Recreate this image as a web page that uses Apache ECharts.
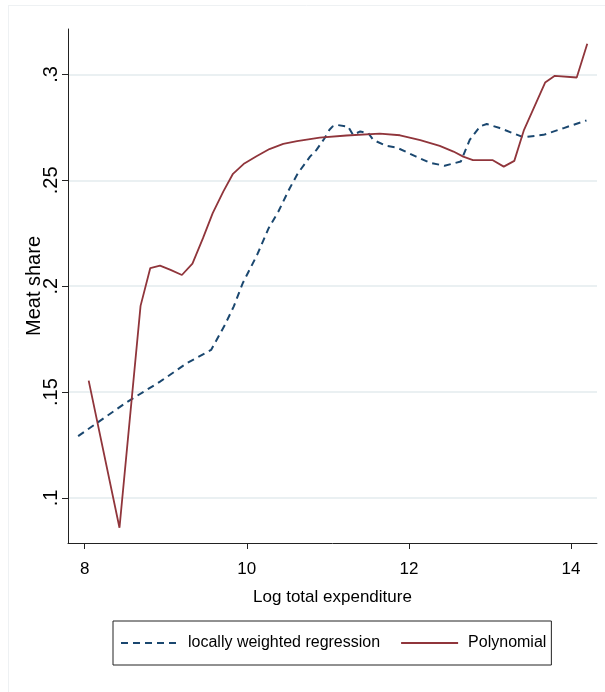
<!DOCTYPE html>
<html>
<head>
<meta charset="utf-8">
<script src="https://cdn.jsdelivr.net/npm/echarts@6/dist/echarts.min.js"></script>
<style>
html,body{margin:0;padding:0;background:#fff;}
#chart{width:605px;height:692px;}
</style>
</head>
<body>
<div id="chart"></div>
<script>
// ---- data ----
const lowessX = [7.92, 8.51, 8.93, 9.26, 9.56, 9.73, 9.84, 9.95, 10.13, 10.27, 10.39, 10.53, 10.63, 10.78, 10.86, 10.96, 11.02, 11.06, 11.11, 11.25, 11.31, 11.40, 11.50, 11.56, 11.72, 11.85, 12.09, 12.26, 12.44, 12.64, 12.75, 12.88, 12.96, 13.12, 13.41, 13.66, 13.91, 14.19];
const lowessY = [0.1292, 0.1450, 0.1549, 0.1636, 0.1699, 0.1817, 0.1905, 0.2014, 0.2150, 0.2274, 0.2353, 0.2463, 0.2533, 0.2612, 0.2644, 0.2699, 0.2739, 0.2755, 0.2762, 0.2754, 0.2715, 0.2731, 0.2723, 0.2691, 0.2663, 0.2655, 0.2612, 0.2583, 0.2569, 0.2589, 0.2691, 0.2756, 0.2766, 0.2747, 0.2704, 0.2715, 0.2747, 0.2783];
const polyX = [8.05, 8.43, 8.69, 8.81, 8.93, 9.06, 9.20, 9.33, 9.46, 9.58, 9.71, 9.83, 9.97, 10.12, 10.28, 10.45, 10.62, 10.90, 11.23, 11.64, 11.89, 12.14, 12.38, 12.55, 12.67, 12.79, 13.03, 13.17, 13.30, 13.42, 13.68, 13.80, 14.07, 14.20];
const polyY = [0.1554, 0.0859, 0.1907, 0.2086, 0.2097, 0.2077, 0.2053, 0.2107, 0.2227, 0.2345, 0.2447, 0.2531, 0.2580, 0.2614, 0.2648, 0.2672, 0.2685, 0.2702, 0.2712, 0.2721, 0.2713, 0.2690, 0.2663, 0.2636, 0.2612, 0.2596, 0.2596, 0.2565, 0.2592, 0.2739, 0.2962, 0.2994, 0.2986, 0.3145];
const xTicks = [8, 10, 12, 14];
const yTicks = [0.1, 0.15, 0.2, 0.25, 0.3];
const seriesNames = ['locally weighted regression', 'Polynomial'];
const xTitle = 'Log total expenditure';
const yTitle = 'Meat share';

const zip = (xs, ys) => xs.map((x, i) => [x, ys[i]]);
const font = "'Liberation Sans', Arial, sans-serif";

const chart = echarts.init(document.getElementById('chart'), null, {renderer: 'canvas'});
chart.setOption({
  backgroundColor: '#ffffff',
  animation: false,
  graphic: [
    {type: 'line', shape: {x1: 8, y1: 5.5, x2: 605, y2: 5.5}, style: {stroke: '#eef1f3', lineWidth: 1}, silent: true},
    {type: 'line', shape: {x1: 8.5, y1: 5, x2: 8.5, y2: 692}, style: {stroke: '#eef1f3', lineWidth: 1}, silent: true}
  ],
  grid: {left: 68, right: 8, top: 29, bottom: 149, containLabel: false},
  xAxis: {
    type: 'value',
    min: 7.795, max: 14.32,
    name: xTitle,
    nameLocation: 'middle',
    nameGap: 46,
    nameMoveOverlap: false,
    nameTextStyle: {fontFamily: font, fontSize: 17, color: '#000'},
    axisLine: {show: true, lineStyle: {color: '#222', width: 1}},
    axisTick: {show: true, length: 6, lineStyle: {color: '#222'}, customValues: xTicks},
    axisLabel: {customValues: xTicks, fontFamily: font, fontSize: 17, color: '#000', margin: 18,
      formatter: v => String(v)},
    splitLine: {show: false}
  },
  yAxis: {
    type: 'value',
    min: 0.0787, max: 0.3215,
    name: yTitle,
    nameLocation: 'middle',
    nameRotate: 90,
    nameGap: 24,
    nameMoveOverlap: false,
    nameTextStyle: {fontFamily: font, fontSize: 20, color: '#000'},
    axisLine: {show: true, lineStyle: {color: '#222', width: 1}},
    axisTick: {show: true, length: 6, lineStyle: {color: '#222'}, customValues: yTicks},
    axisLabel: {customValues: yTicks, rotate: 90, fontFamily: font, fontSize: 20, color: '#000', margin: 7,
      formatter: v => String(Math.round(v * 100) / 100).replace(/^0/, '')},
    splitLine: {show: true, lineStyle: {color: '#eaf0f2', width: 2}}
  },
  legend: {
    data: seriesNames,
    left: 113, top: 621,
    orient: 'horizontal',
    itemWidth: 57, itemHeight: 14,
    itemGap: 20,
    padding: [14, 5, 14, 7],
    borderColor: '#222', borderWidth: 1,
    itemStyle: {opacity: 0},
    textStyle: {fontFamily: font, fontSize: 16, color: '#000', padding: [0, 0, 0, 5]}
  },
  series: [
    {
      name: seriesNames[0], type: 'line', data: zip(lowessX, lowessY),
      showSymbol: false, symbol: 'none',
      lineStyle: {color: '#1a476f', width: 2, type: [7, 5]},
      itemStyle: {color: '#1a476f'}
    },
    {
      name: seriesNames[1], type: 'line', data: zip(polyX, polyY),
      showSymbol: false, symbol: 'none',
      lineStyle: {color: '#90353b', width: 1.8},
      itemStyle: {color: '#90353b'}
    }
  ]
});
</script>
</body>
</html>
